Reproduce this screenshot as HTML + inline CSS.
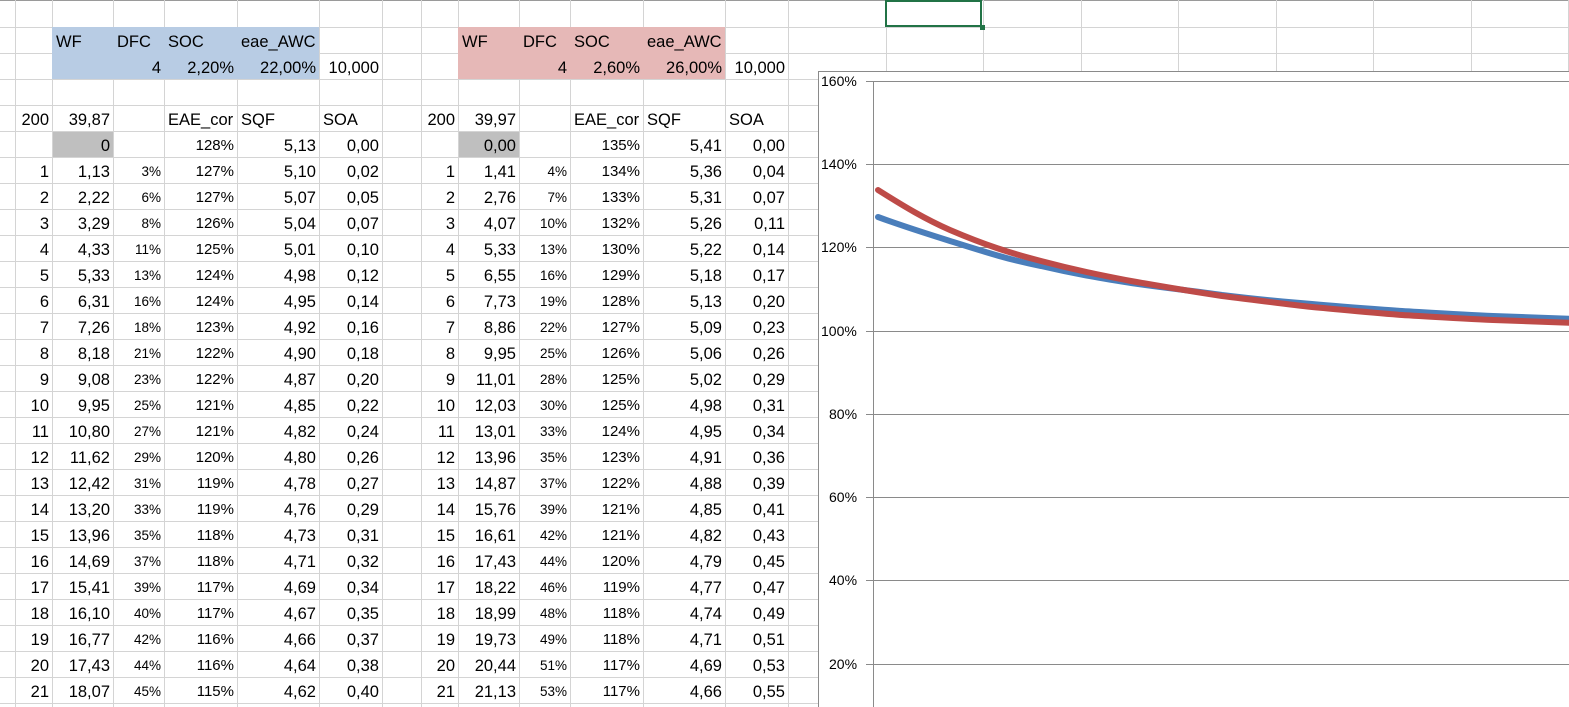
<!DOCTYPE html>
<html><head><meta charset="utf-8">
<style>
body{margin:0;width:1569px;height:707px;overflow:hidden;background:#fff;font-family:"Liberation Sans",sans-serif;position:relative}
.h{position:absolute;left:0;width:1569px;height:1px;background:#d4d4d4}
.v{position:absolute;top:0;width:1px;height:707px;background:#d4d4d4}
.r{position:absolute;left:0;height:26px;width:800px;font-size:16.5px;line-height:28px;color:#000}
.r span{position:absolute;top:0;height:26px;white-space:nowrap;text-align:right;box-sizing:border-box;padding-right:3px}
.r span.l{text-align:left;padding-left:4px;padding-right:0}
.s{font-size:13.5px}
.m{font-size:15px}
.a{left:15px;width:37px}.b{left:52px;width:61px}.c{left:113px;width:51px}.d{left:164px;width:73px}.e{left:237px;width:82px}.f{left:319px;width:63px}
.A{left:421px;width:37px}.B{left:458px;width:61px}.C{left:519px;width:51px}.D{left:570px;width:73px}.E{left:643px;width:82px}.F{left:725px;width:63px}
</style></head><body>
<div class="h" style="top:0;background:#9a9a9a"></div>
<div class="h" style="top:27px"></div><div class="h" style="top:53px"></div><div class="h" style="top:79px"></div><div class="h" style="top:105px"></div><div class="h" style="top:131px"></div><div class="h" style="top:157px"></div><div class="h" style="top:183px"></div><div class="h" style="top:209px"></div><div class="h" style="top:235px"></div><div class="h" style="top:261px"></div><div class="h" style="top:287px"></div><div class="h" style="top:313px"></div><div class="h" style="top:339px"></div><div class="h" style="top:365px"></div><div class="h" style="top:391px"></div><div class="h" style="top:417px"></div><div class="h" style="top:443px"></div><div class="h" style="top:469px"></div><div class="h" style="top:495px"></div><div class="h" style="top:521px"></div><div class="h" style="top:547px"></div><div class="h" style="top:573px"></div><div class="h" style="top:599px"></div><div class="h" style="top:625px"></div><div class="h" style="top:651px"></div><div class="h" style="top:677px"></div><div class="h" style="top:703px"></div>
<div class="v" style="left:15px"></div><div class="v" style="left:52px"></div><div class="v" style="left:113px"></div><div class="v" style="left:164px"></div><div class="v" style="left:237px"></div><div class="v" style="left:319px"></div><div class="v" style="left:382px"></div><div class="v" style="left:421px"></div><div class="v" style="left:458px"></div><div class="v" style="left:519px"></div><div class="v" style="left:570px"></div><div class="v" style="left:643px"></div><div class="v" style="left:725px"></div><div class="v" style="left:788px"></div><div class="v" style="left:886px"></div><div class="v" style="left:983px"></div><div class="v" style="left:1081px"></div><div class="v" style="left:1178px"></div><div class="v" style="left:1276px"></div><div class="v" style="left:1373px"></div><div class="v" style="left:1471px"></div><div class="v" style="left:1568px"></div>
<div style="position:absolute;left:52px;top:27px;width:267px;height:52px;background:#b8cce4"></div>
<div style="position:absolute;left:458px;top:27px;width:267px;height:52px;background:#e6b8b7"></div>
<div style="position:absolute;left:53px;top:132px;width:60px;height:25px;background:#bfbfbf"></div>
<div style="position:absolute;left:459px;top:132px;width:60px;height:25px;background:#bfbfbf"></div>
<div style="position:absolute;left:885px;top:0;width:97px;height:27px;border:2px solid #217346;box-sizing:border-box"></div>
<div style="position:absolute;left:980px;top:25px;width:5px;height:5px;background:#217346"></div>

<div class="r" style="top:28px"><span class="b l">WF</span><span class="c l">DFC</span><span class="d l">SOC</span><span class="e l">eae_AWC</span><span class="B l">WF</span><span class="C l">DFC</span><span class="D l">SOC</span><span class="E l">eae_AWC</span></div>
<div class="r" style="top:54px"><span class="c">4</span><span class="d">2,20%</span><span class="e">22,00%</span><span class="f">10,000</span><span class="C">4</span><span class="D">2,60%</span><span class="E">26,00%</span><span class="F">10,000</span></div>
<div class="r" style="top:106px"><span class="a">200</span><span class="b">39,87</span><span class="d l">EAE_cor</span><span class="e l">SQF</span><span class="f l">SOA</span><span class="A">200</span><span class="B">39,97</span><span class="D l">EAE_cor</span><span class="E l">SQF</span><span class="F l">SOA</span></div>
<div class="r" style="top:132px"><span class="b">0</span><span class="d m">128%</span><span class="e">5,13</span><span class="f">0,00</span><span class="B">0,00</span><span class="D m">135%</span><span class="E">5,41</span><span class="F">0,00</span></div>
<div class="r" style="top:158px"><span class="a">1</span><span class="b">1,13</span><span class="c s">3%</span><span class="d m">127%</span><span class="e">5,10</span><span class="f">0,02</span><span class="A">1</span><span class="B">1,41</span><span class="C s">4%</span><span class="D m">134%</span><span class="E">5,36</span><span class="F">0,04</span></div>
<div class="r" style="top:184px"><span class="a">2</span><span class="b">2,22</span><span class="c s">6%</span><span class="d m">127%</span><span class="e">5,07</span><span class="f">0,05</span><span class="A">2</span><span class="B">2,76</span><span class="C s">7%</span><span class="D m">133%</span><span class="E">5,31</span><span class="F">0,07</span></div>
<div class="r" style="top:210px"><span class="a">3</span><span class="b">3,29</span><span class="c s">8%</span><span class="d m">126%</span><span class="e">5,04</span><span class="f">0,07</span><span class="A">3</span><span class="B">4,07</span><span class="C s">10%</span><span class="D m">132%</span><span class="E">5,26</span><span class="F">0,11</span></div>
<div class="r" style="top:236px"><span class="a">4</span><span class="b">4,33</span><span class="c s">11%</span><span class="d m">125%</span><span class="e">5,01</span><span class="f">0,10</span><span class="A">4</span><span class="B">5,33</span><span class="C s">13%</span><span class="D m">130%</span><span class="E">5,22</span><span class="F">0,14</span></div>
<div class="r" style="top:262px"><span class="a">5</span><span class="b">5,33</span><span class="c s">13%</span><span class="d m">124%</span><span class="e">4,98</span><span class="f">0,12</span><span class="A">5</span><span class="B">6,55</span><span class="C s">16%</span><span class="D m">129%</span><span class="E">5,18</span><span class="F">0,17</span></div>
<div class="r" style="top:288px"><span class="a">6</span><span class="b">6,31</span><span class="c s">16%</span><span class="d m">124%</span><span class="e">4,95</span><span class="f">0,14</span><span class="A">6</span><span class="B">7,73</span><span class="C s">19%</span><span class="D m">128%</span><span class="E">5,13</span><span class="F">0,20</span></div>
<div class="r" style="top:314px"><span class="a">7</span><span class="b">7,26</span><span class="c s">18%</span><span class="d m">123%</span><span class="e">4,92</span><span class="f">0,16</span><span class="A">7</span><span class="B">8,86</span><span class="C s">22%</span><span class="D m">127%</span><span class="E">5,09</span><span class="F">0,23</span></div>
<div class="r" style="top:340px"><span class="a">8</span><span class="b">8,18</span><span class="c s">21%</span><span class="d m">122%</span><span class="e">4,90</span><span class="f">0,18</span><span class="A">8</span><span class="B">9,95</span><span class="C s">25%</span><span class="D m">126%</span><span class="E">5,06</span><span class="F">0,26</span></div>
<div class="r" style="top:366px"><span class="a">9</span><span class="b">9,08</span><span class="c s">23%</span><span class="d m">122%</span><span class="e">4,87</span><span class="f">0,20</span><span class="A">9</span><span class="B">11,01</span><span class="C s">28%</span><span class="D m">125%</span><span class="E">5,02</span><span class="F">0,29</span></div>
<div class="r" style="top:392px"><span class="a">10</span><span class="b">9,95</span><span class="c s">25%</span><span class="d m">121%</span><span class="e">4,85</span><span class="f">0,22</span><span class="A">10</span><span class="B">12,03</span><span class="C s">30%</span><span class="D m">125%</span><span class="E">4,98</span><span class="F">0,31</span></div>
<div class="r" style="top:418px"><span class="a">11</span><span class="b">10,80</span><span class="c s">27%</span><span class="d m">121%</span><span class="e">4,82</span><span class="f">0,24</span><span class="A">11</span><span class="B">13,01</span><span class="C s">33%</span><span class="D m">124%</span><span class="E">4,95</span><span class="F">0,34</span></div>
<div class="r" style="top:444px"><span class="a">12</span><span class="b">11,62</span><span class="c s">29%</span><span class="d m">120%</span><span class="e">4,80</span><span class="f">0,26</span><span class="A">12</span><span class="B">13,96</span><span class="C s">35%</span><span class="D m">123%</span><span class="E">4,91</span><span class="F">0,36</span></div>
<div class="r" style="top:470px"><span class="a">13</span><span class="b">12,42</span><span class="c s">31%</span><span class="d m">119%</span><span class="e">4,78</span><span class="f">0,27</span><span class="A">13</span><span class="B">14,87</span><span class="C s">37%</span><span class="D m">122%</span><span class="E">4,88</span><span class="F">0,39</span></div>
<div class="r" style="top:496px"><span class="a">14</span><span class="b">13,20</span><span class="c s">33%</span><span class="d m">119%</span><span class="e">4,76</span><span class="f">0,29</span><span class="A">14</span><span class="B">15,76</span><span class="C s">39%</span><span class="D m">121%</span><span class="E">4,85</span><span class="F">0,41</span></div>
<div class="r" style="top:522px"><span class="a">15</span><span class="b">13,96</span><span class="c s">35%</span><span class="d m">118%</span><span class="e">4,73</span><span class="f">0,31</span><span class="A">15</span><span class="B">16,61</span><span class="C s">42%</span><span class="D m">121%</span><span class="E">4,82</span><span class="F">0,43</span></div>
<div class="r" style="top:548px"><span class="a">16</span><span class="b">14,69</span><span class="c s">37%</span><span class="d m">118%</span><span class="e">4,71</span><span class="f">0,32</span><span class="A">16</span><span class="B">17,43</span><span class="C s">44%</span><span class="D m">120%</span><span class="E">4,79</span><span class="F">0,45</span></div>
<div class="r" style="top:574px"><span class="a">17</span><span class="b">15,41</span><span class="c s">39%</span><span class="d m">117%</span><span class="e">4,69</span><span class="f">0,34</span><span class="A">17</span><span class="B">18,22</span><span class="C s">46%</span><span class="D m">119%</span><span class="E">4,77</span><span class="F">0,47</span></div>
<div class="r" style="top:600px"><span class="a">18</span><span class="b">16,10</span><span class="c s">40%</span><span class="d m">117%</span><span class="e">4,67</span><span class="f">0,35</span><span class="A">18</span><span class="B">18,99</span><span class="C s">48%</span><span class="D m">118%</span><span class="E">4,74</span><span class="F">0,49</span></div>
<div class="r" style="top:626px"><span class="a">19</span><span class="b">16,77</span><span class="c s">42%</span><span class="d m">116%</span><span class="e">4,66</span><span class="f">0,37</span><span class="A">19</span><span class="B">19,73</span><span class="C s">49%</span><span class="D m">118%</span><span class="E">4,71</span><span class="F">0,51</span></div>
<div class="r" style="top:652px"><span class="a">20</span><span class="b">17,43</span><span class="c s">44%</span><span class="d m">116%</span><span class="e">4,64</span><span class="f">0,38</span><span class="A">20</span><span class="B">20,44</span><span class="C s">51%</span><span class="D m">117%</span><span class="E">4,69</span><span class="F">0,53</span></div>
<div class="r" style="top:678px"><span class="a">21</span><span class="b">18,07</span><span class="c s">45%</span><span class="d m">115%</span><span class="e">4,62</span><span class="f">0,40</span><span class="A">21</span><span class="B">21,13</span><span class="C s">53%</span><span class="D m">117%</span><span class="E">4,66</span><span class="F">0,55</span></div>

<svg style="position:absolute;left:0;top:0" width="1569" height="707">
<rect x="818.5" y="71.5" width="760" height="650" fill="#fff" stroke="#8a8a8a" stroke-width="1"/>
<g stroke="#8a8a8a" stroke-width="1">
<line x1="866" y1="81.5" x2="1569" y2="81.5"/><line x1="866" y1="164.5" x2="1569" y2="164.5"/><line x1="866" y1="247.5" x2="1569" y2="247.5"/><line x1="866" y1="331.5" x2="1569" y2="331.5"/><line x1="866" y1="414.5" x2="1569" y2="414.5"/><line x1="866" y1="497.5" x2="1569" y2="497.5"/><line x1="866" y1="580.5" x2="1569" y2="580.5"/><line x1="866" y1="664.5" x2="1569" y2="664.5"/>
<line x1="873.5" y1="81" x2="873.5" y2="707"/>
</g>
<g font-family="Liberation Sans, sans-serif" font-size="14" fill="#000">
<text x="821" y="86">160%</text><text x="821" y="169">140%</text><text x="821" y="252">120%</text><text x="821" y="336">100%</text><text x="829" y="419">80%</text><text x="829" y="502">60%</text><text x="829" y="585">40%</text><text x="829" y="669">20%</text>
</g>
<path d="M878,217 C905,227 925,233 950,241 C985,252 1010,260 1041,266 C1075,274 1100,278 1131,283 C1165,288 1195,291 1222,295 C1255,299 1285,302 1312,304 C1345,307 1375,309 1402,311 C1435,313 1465,315 1493,316 C1525,317 1550,318 1575,319" fill="none" stroke="#4a7ebb" stroke-width="6" stroke-linecap="round"/>
<path d="M878,190 C905,207 925,219 950,230 C985,245 1010,253 1041,261 C1075,270 1100,275 1131,281 C1165,287 1195,292 1222,296 C1255,300 1285,304 1312,307 C1345,310 1375,313 1402,315 C1435,317 1465,319 1493,320 C1525,321 1550,322 1575,323" fill="none" stroke="#be4b48" stroke-width="6" stroke-linecap="round"/>
</svg>
</body></html>
